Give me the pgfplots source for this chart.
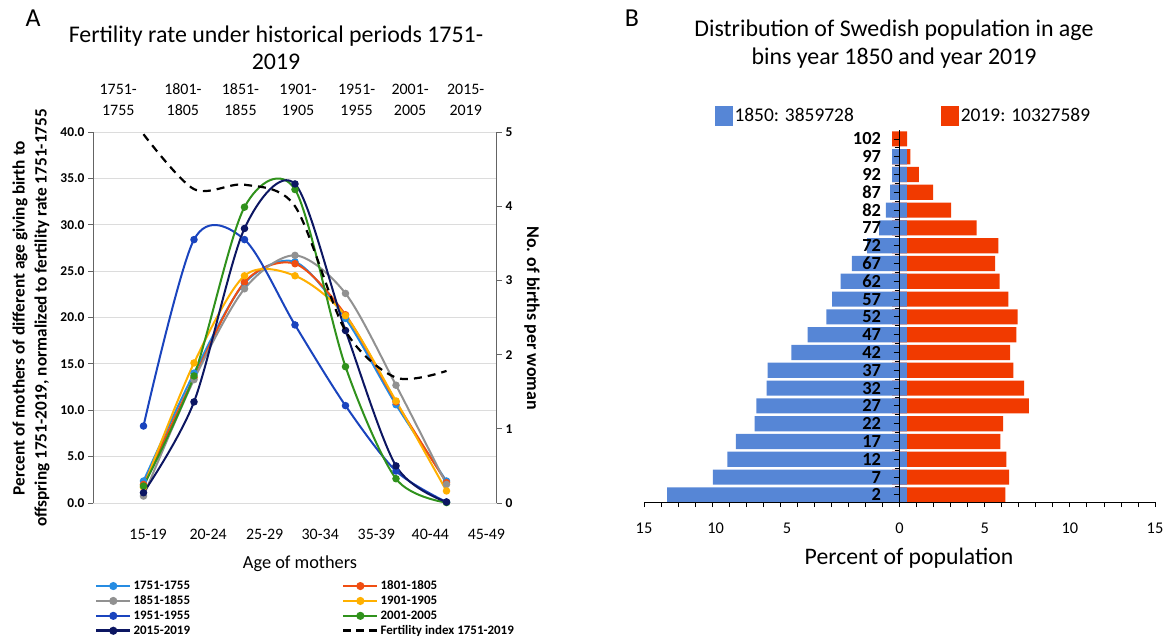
\documentclass[border=0pt]{standalone}
\usepackage{pgfplots}
\pgfplotsset{compat=1.18}
\usepackage{pgfplotstable}
\usepackage{fontspec}
\setmainfont{Carlito}

\definecolor{cA}{RGB}{38,140,226}
\definecolor{cB}{RGB}{240,78,18}
\definecolor{cC}{RGB}{145,145,145}
\definecolor{cD}{RGB}{255,176,0}
\definecolor{cE}{RGB}{26,68,190}
\definecolor{cF}{RGB}{48,146,28}
\definecolor{cG}{RGB}{12,22,98}
\definecolor{pyrB}{RGB}{86,134,214}
\definecolor{pyrR}{RGB}{241,58,0}
\definecolor{axgray}{RGB}{100,100,100}
\definecolor{gridgray}{RGB}{220,220,220}

\pgfplotstableread{
x s1751 s1801 s1851 s1901 s1951 s2001 s2015 fert
1 2.37 2.00 0.75 1.70 8.30 1.83 1.11 4.97
2 14.0 13.5 13.3 15.1 28.4 13.7 10.9 4.23
3 23.7 23.8 23.1 24.5 28.4 31.9 29.6 4.29
4 26.0 25.8 26.7 24.5 19.2 33.8 34.4 4.00
5 19.9 20.3 22.6 20.2 10.5 14.7 18.6 2.32
6 10.6 10.9 12.7 11.0 3.45 2.62 4.00 1.69
7 2.37 2.20 2.00 1.30 0.10 0.05 0.11 1.78
}\fertdata

\pgfplotstableread{
age blue red bstub rstub
2 -13.65 6.22 0.43 -0.43
7 -10.95 6.43 0.43 -0.43
12 -10.10 6.28 0.43 -0.43
17 -9.60 5.92 0.43 -0.43
22 -8.50 6.09 0.43 -0.43
27 -8.40 7.59 0.43 -0.43
32 -7.80 7.31 0.43 -0.43
37 -7.75 6.69 0.43 -0.43
42 -6.35 6.50 0.43 -0.43
47 -5.40 6.86 0.43 -0.43
52 -4.30 6.94 0.43 -0.43
57 -3.95 6.39 0.43 -0.43
62 -3.45 5.88 0.43 -0.43
67 -2.80 5.62 0.43 -0.43
72 -1.90 5.81 0.43 -0.43
77 -1.20 4.53 0.43 -0.43
82 -0.80 3.03 0.43 -0.43
87 -0.55 1.97 0.43 -0.43
92 -0.43 1.13 0.43 -0.43
97 -0.43 0.64 0.43 -0.43
102 0 0.45 0 -0.43
}\pyr

\begin{document}
\begin{tikzpicture}
\useasboundingbox (0,0) rectangle (1168bp,-639bp);

% ---------------- Panel A ----------------
\node[font=\fontsize{26}{30}\selectfont] at (33bp,-18bp) {A};
\node[align=center, font=\fontsize{24}{27}\selectfont] at (276bp,-48bp) {Fertility rate under historical periods 1751-\\2019};

\begin{axis}[
  at={(93bp,-503bp)}, anchor=south west,
  scale only axis, width=404bp, height=371bp,
  xmin=0, xmax=8, ymin=0, ymax=40,
  clip=false,
  axis x line*=bottom, axis y line*=left,
  x axis line style={draw=none},
  y axis line style={draw=axgray, line width=1bp},
  xtick={1.09,2.28,3.40,4.50,5.61,6.68,7.79},
  xticklabels={15-19,20-24,25-29,30-34,35-39,40-44,45-49},
  x tick style={draw=none},
  xticklabel style={font=\fontsize{16}{18}\selectfont, yshift=-18bp},
  ytick={0,5,...,40},
  y tick style={draw=axgray, line width=1bp},
  tick align=outside, major tick length=5bp,
  yticklabel style={font=\bfseries\fontsize{13.5}{15}\selectfont,
    /pgf/number format/.cd, fixed, fixed zerofill, precision=1, assume math mode=true},
  ymajorgrids, grid style={draw=gridgray, line width=0.9bp},
  legend columns=2,
  legend cell align=left,
  legend style={
    at={(axis description cs:0,0)}, anchor=north west, xshift=2bp, yshift=-75.6bp,
    draw=none, fill=none, inner sep=0pt, outer sep=0pt, row sep=0pt, column sep=0pt,
    font=\bfseries\fontsize{13}{15}\selectfont,
    nodes={inner xsep=2bp, inner ysep=1.2bp, text height=10bp, text depth=2.5bp},
    /tikz/every even column/.append style={column sep=150bp},
  },
  legend image code/.code={
    \draw[mark repeat=2, mark phase=2, #1, line width=2.6bp] plot coordinates {(0bp,0bp) (17bp,0bp) (34bp,0bp)};
  },
  every axis plot/.append style={line width=2bp, smooth, mark=*, mark size=2.7bp},
]
\addplot[color=cA] table[x=x,y=s1751]{\fertdata}; \addlegendentry{1751-1755}
\addplot[color=cB] table[x=x,y=s1801]{\fertdata}; \addlegendentry{1801-1805}
\addplot[color=cC] table[x=x,y=s1851]{\fertdata}; \addlegendentry{1851-1855}
\addplot[color=cD] table[x=x,y=s1901]{\fertdata}; \addlegendentry{1901-1905}
\addplot[color=cE] table[x=x,y=s1951]{\fertdata}; \addlegendentry{1951-1955}
\addplot[color=cF] table[x=x,y=s2001]{\fertdata}; \addlegendentry{2001-2005}
\addplot[color=cG] table[x=x,y=s2015]{\fertdata}; \addlegendentry{2015-2019}
\addlegendimage{black, line width=2.2bp, dash pattern=on 8bp off 5bp, no marks}
\addlegendentry{Fertility index 1751-2019}
\end{axis}

\begin{axis}[
  at={(93bp,-503bp)}, anchor=south west,
  scale only axis, width=404bp, height=371bp,
  xmin=0, xmax=8, ymin=0, ymax=5,
  clip=false,
  axis x line*=top, axis y line*=right,
  x axis line style={draw=none},
  y axis line style={draw=axgray, line width=1bp},
  xtick={0.50,1.78,2.92,4.06,5.22,6.28,7.38},
  xticklabels={{1751-\\1755},{1801-\\1805},{1851-\\1855},{1901-\\1905},{1951-\\1955},{2001-\\2005},{2015-\\2019}},
  x tick style={draw=none},
  xticklabel style={font=\fontsize{16}{21}\selectfont, align=center, yshift=8bp},
  ytick={0,1,...,5},
  y tick style={draw=axgray, line width=1bp},
  tick align=outside, major tick length=5bp,
  yticklabel style={font=\bfseries\fontsize{13.5}{15}\selectfont,
    /pgf/number format/assume math mode=true},
]
\addplot[black, line width=2.2bp, dash pattern=on 8bp off 6bp, smooth, no marks] table[x=x,y=fert]{\fertdata};
\end{axis}

\node[rotate=90, align=center, font=\bfseries\fontsize{17.3}{22}\selectfont] at (31bp,-318bp)
  {Percent of mothers of different age giving birth to\\offspring 1751-2019, normalized to fertility rate 1751-1755};
\node[rotate=-90, font=\bfseries\fontsize{18}{22}\selectfont] at (532bp,-318bp) {No. of births per woman};
\node[font=\fontsize{18.4}{22}\selectfont] at (300bp,-564bp) {Age of mothers};

% ---------------- Panel B ----------------
\node[font=\fontsize{26}{30}\selectfont] at (632bp,-18bp) {B};
\node[align=center, font=\fontsize{24}{27.5}\selectfont] at (894bp,-44bp) {Distribution of Swedish population in age\\bins year 1850 and year 2019};

\begin{axis}[
  at={(644bp,-502bp)}, anchor=south west,
  scale only axis, width=511bp, height=372bp,
  xmin=-15, xmax=15, ymin=0, ymax=104.5,
  axis x line=bottom, axis y line=center,
  axis line style={-, black, line width=1bp},
  every inner y axis line/.append style={-},
  every outer x axis line/.append style={-},
  axis on top,
  xtick={-15,-10.8,-6.6,0,5,10,15},
  xticklabels={15,10,5,0,5,10,15},
  minor xtick={-15,-14,...,15},
  major x tick style={draw=none},
  minor x tick style={draw=black, line width=0.8bp},
  minor tick length=5bp,
  tick align=outside,
  xticklabel style={font=\fontsize{16.4}{18}\selectfont, yshift=-11bp},
  ytick={2,7,...,102},
  minor ytick={4.5,9.5,...,99.5},
  major y tick style={draw=black, line width=0.8bp},
  minor y tick style={draw=black, line width=0.8bp},
  major tick length=6bp,
  yticklabel style={font=\bfseries\fontsize{18.5}{20}\selectfont, xshift=-9bp, /pgf/number format/assume math mode=true},
  legend columns=2,
  legend style={
    at={(axis description cs:0,1)}, anchor=west, xshift=71bp, yshift=14bp,
    draw=none, fill=none, inner sep=0pt, outer sep=0pt, column sep=0pt,
    font=\fontsize{19.5}{22}\selectfont,
    nodes={inner xsep=1.5bp, inner ysep=1bp},
    /tikz/every even column/.append style={column sep=86bp},
  },
  legend image code/.code={
    \path[#1, draw=none] (0bp,-10bp) rectangle (18bp,10bp);
  },
]
\addplot[xbar, bar shift=0pt, bar width=4.25, fill=pyrR, draw=none, forget plot] table[x=rstub,y=age]{\pyr};
\addplot[xbar, bar shift=0pt, bar width=4.25, fill=pyrB, draw=none] table[x=blue,y=age]{\pyr};
\addlegendentry{1850: 3859728}
\addplot[xbar, bar shift=0pt, bar width=4.25, fill=pyrR, draw=none] table[x=red,y=age]{\pyr};
\addlegendentry{2019: 10327589}
\addplot[xbar, bar shift=0pt, bar width=4.25, fill=pyrB, draw=none, forget plot] table[x=bstub,y=age]{\pyr};
\end{axis}
\node[font=\fontsize{23.8}{26}\selectfont] at (909bp,-558bp) {Percent of population};

\end{tikzpicture}
\end{document}
